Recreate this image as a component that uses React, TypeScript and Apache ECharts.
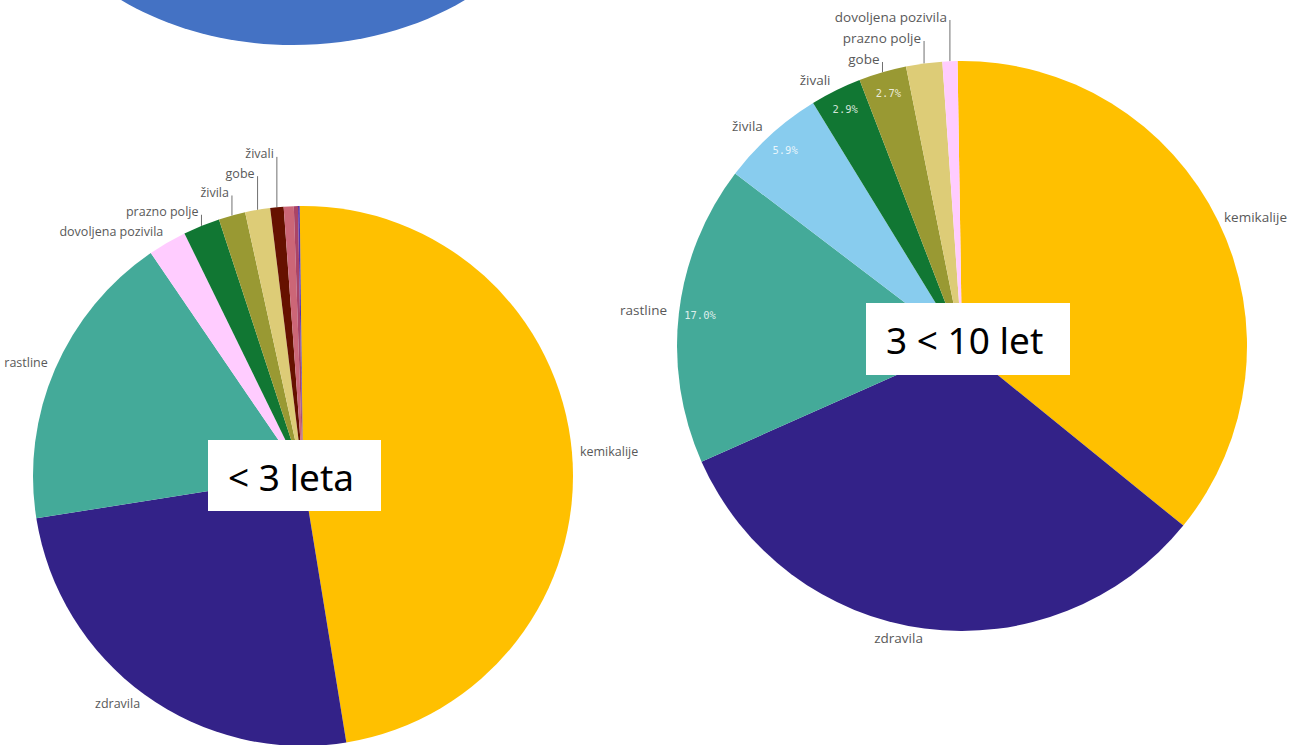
import React, { useEffect, useRef } from "react";
import * as echarts from "echarts";

// ---- left pie: "< 3 leta"
const leftNames = ["kemikalije", "zdravila", "rastline", "dovoljena pozivila", "prazno polje", "živila", "gobe", "živali", "ostalo1", "ostalo2", "ostalo3"];
const leftValues = [47.7, 25.1, 18.0, 2.3, 2.2, 1.6, 1.5, 0.8, 0.6, 0.25, 0.1];
const leftColors = ["#FFC000", "#332288", "#44AA99", "#FFCCFF", "#117733", "#999933", "#DDCC77", "#661100", "#CC6677", "#AA4466", "#5533AA"];
const leftLabeled = ["kemikalije", "zdravila", "rastline", "dovoljena pozivila", "prazno polje", "živila", "gobe", "živali"];

// ---- right pie: "3 < 10 let"
const rightNames = ["kemikalije", "zdravila", "rastline", "živila", "živali", "gobe", "prazno polje", "dovoljena pozivila"];
const rightValues = [36.1, 32.5, 17.0, 5.9, 2.9, 2.7, 2.05, 0.85];
const rightColors = ["#FFC000", "#332288", "#44AA99", "#88CCEE", "#117733", "#999933", "#DDCC77", "#FFCCFF"];
const rightPctShown = ["rastline", "živila", "živali", "gobe"];

const boxTitles = ["< 3 leta", "3 < 10 let"];

const W = 1289;
const H = 745;
const L = { cx: 303, cy: 476, r: 270, start: 90.7 };
const R = { cx: 962, cy: 346, r: 285, start: 90.9 };

function makeLabelLayout(cx: number, cy: number, gapX: number, gapY: number, spacing: number, upOffset: number) {
  let prevY = Infinity;
  return (params: any) => {
    const pts = params.labelLinePoints;
    if (!pts) return {};
    if (params.dataIndex === 0) prevY = Infinity;
    const ex = pts[0][0];
    const ey = pts[0][1];
    const dx = ex - cx;
    const dy = ey - cy;
    const len = Math.hypot(dx, dy) || 1;
    let ax = ex + (gapX * dx) / len;
    let ay = ey + (gapY * dy) / len;
    const isLeft = dx < 0;
    if (isLeft && dy < 0) {
      ay += upOffset;
      if (ay > prevY - spacing) {
        const y = prevY - spacing;
        prevY = y;
        return {
          x: ex - 3,
          y,
          align: "right",
          verticalAlign: "middle",
          labelLinePoints: [[ex, ey], [ex, y + 3], [ex, y + 3]],
        };
      }
      prevY = ay;
    }
    const w = params.labelRect ? params.labelRect.width : 0;
    if (!isLeft && ax + w > W - 2) ax = W - 2 - w;
    return {
      x: ax,
      y: ay,
      align: isLeft ? "right" : "left",
      verticalAlign: "middle",
      labelLinePoints: [[ex, ey], [ex, ey], [ex, ey]],
    };
  };
}

function mainPie(
  geo: { cx: number; cy: number; r: number; start: number },
  names: string[],
  values: number[],
  colors: string[],
  labeled: string[],
  fontSize: number,
  gapX: number,
  gapY: number,
  spacing: number,
  upOffset: number
) {
  return {
    type: "pie",
    center: [geo.cx, geo.cy],
    radius: [0, geo.r],
    startAngle: geo.start,
    clockwise: true,
    avoidLabelOverlap: false,
    silent: true,
    z: 2,
    itemStyle: { borderWidth: 0 },
    emphasis: { disabled: true },
    label: {
      show: true,
      position: "outside",
      formatter: "{b}",
      color: "#595959",
      fontFamily: "Open Sans",
      fontSize,
    },
    labelLine: { show: true, length: 4, length2: 0, lineStyle: { color: "#707070", width: 1 } },
    labelLayout: makeLabelLayout(geo.cx, geo.cy, gapX, gapY, spacing, upOffset),
    data: names.map((n, i) => ({
      name: n,
      value: values[i],
      itemStyle: { color: colors[i] },
      label: { show: labeled.includes(n) },
      labelLine: { show: labeled.includes(n) },
    })),
  };
}

function pctPie(geo: { cx: number; cy: number; r: number; start: number }, names: string[], values: number[], shown: string[]) {
  return {
    type: "pie",
    center: [geo.cx, geo.cy],
    radius: [geo.r * 0.83, geo.r],
    startAngle: geo.start,
    clockwise: true,
    silent: true,
    z: 3,
    avoidLabelOverlap: false,
    itemStyle: { color: "rgba(0,0,0,0)", borderWidth: 0 },
    emphasis: { disabled: true },
    label: {
      position: "inside",
      color: "rgba(255,255,255,0.82)",
      fontFamily: "DejaVu Sans Mono",
      fontSize: 10.5,
      formatter: (p: any) => p.percent.toFixed(1) + "%",
    },
    labelLine: { show: false },
    data: names.map((n, i) => ({ name: n, value: values[i], label: { show: shown.includes(n) } })),
  };
}

export default function App() {
  const ref = useRef<HTMLDivElement>(null);
  useEffect(() => {
    if (!ref.current) return;
    const chart = echarts.init(ref.current, undefined, { renderer: "svg" });
    chart.setOption({
      animation: false,
      backgroundColor: "#ffffff",
      graphic: [
        {
          type: "ellipse",
          z: 1,
          shape: { cx: 293, cy: -160, rx: 275, ry: 205 },
          style: { fill: "#4472C4" },
        },
        { type: "rect", z: 5, shape: { x: 0, y: 0, width: 109, height: 60 }, style: { fill: "#ffffff" } },
        { type: "rect", z: 100, shape: { x: 208, y: 440, width: 173, height: 71 }, style: { fill: "#ffffff" } },
        {
          type: "text",
          z: 101,
          x: 228,
          y: 476,
          style: { text: boxTitles[0], fill: "#000000", font: "37px 'Noto Sans'", textVerticalAlign: "middle" },
        },
        { type: "rect", z: 100, shape: { x: 866, y: 303, width: 204, height: 72 }, style: { fill: "#ffffff" } },
        {
          type: "text",
          z: 101,
          x: 886,
          y: 339,
          style: { text: boxTitles[1], fill: "#000000", font: "37px 'Noto Sans'", textVerticalAlign: "middle" },
        },
      ],
      series: [
        mainPie(L, leftNames, leftValues, leftColors, leftLabeled, 12.5, 8, 11, 19.3, -2),
        mainPie(R, rightNames, rightValues, rightColors, rightNames, 13.5, 12, 10, 21, -1.5),
        pctPie(R, rightNames, rightValues, rightPctShown),
      ],
    });
    return () => chart.dispose();
  }, []);
  return (
    <div
      ref={ref}
      style={{ position: "fixed", left: 0, top: 0, width: W, height: H, overflow: "hidden" }}
    />
  );
}
